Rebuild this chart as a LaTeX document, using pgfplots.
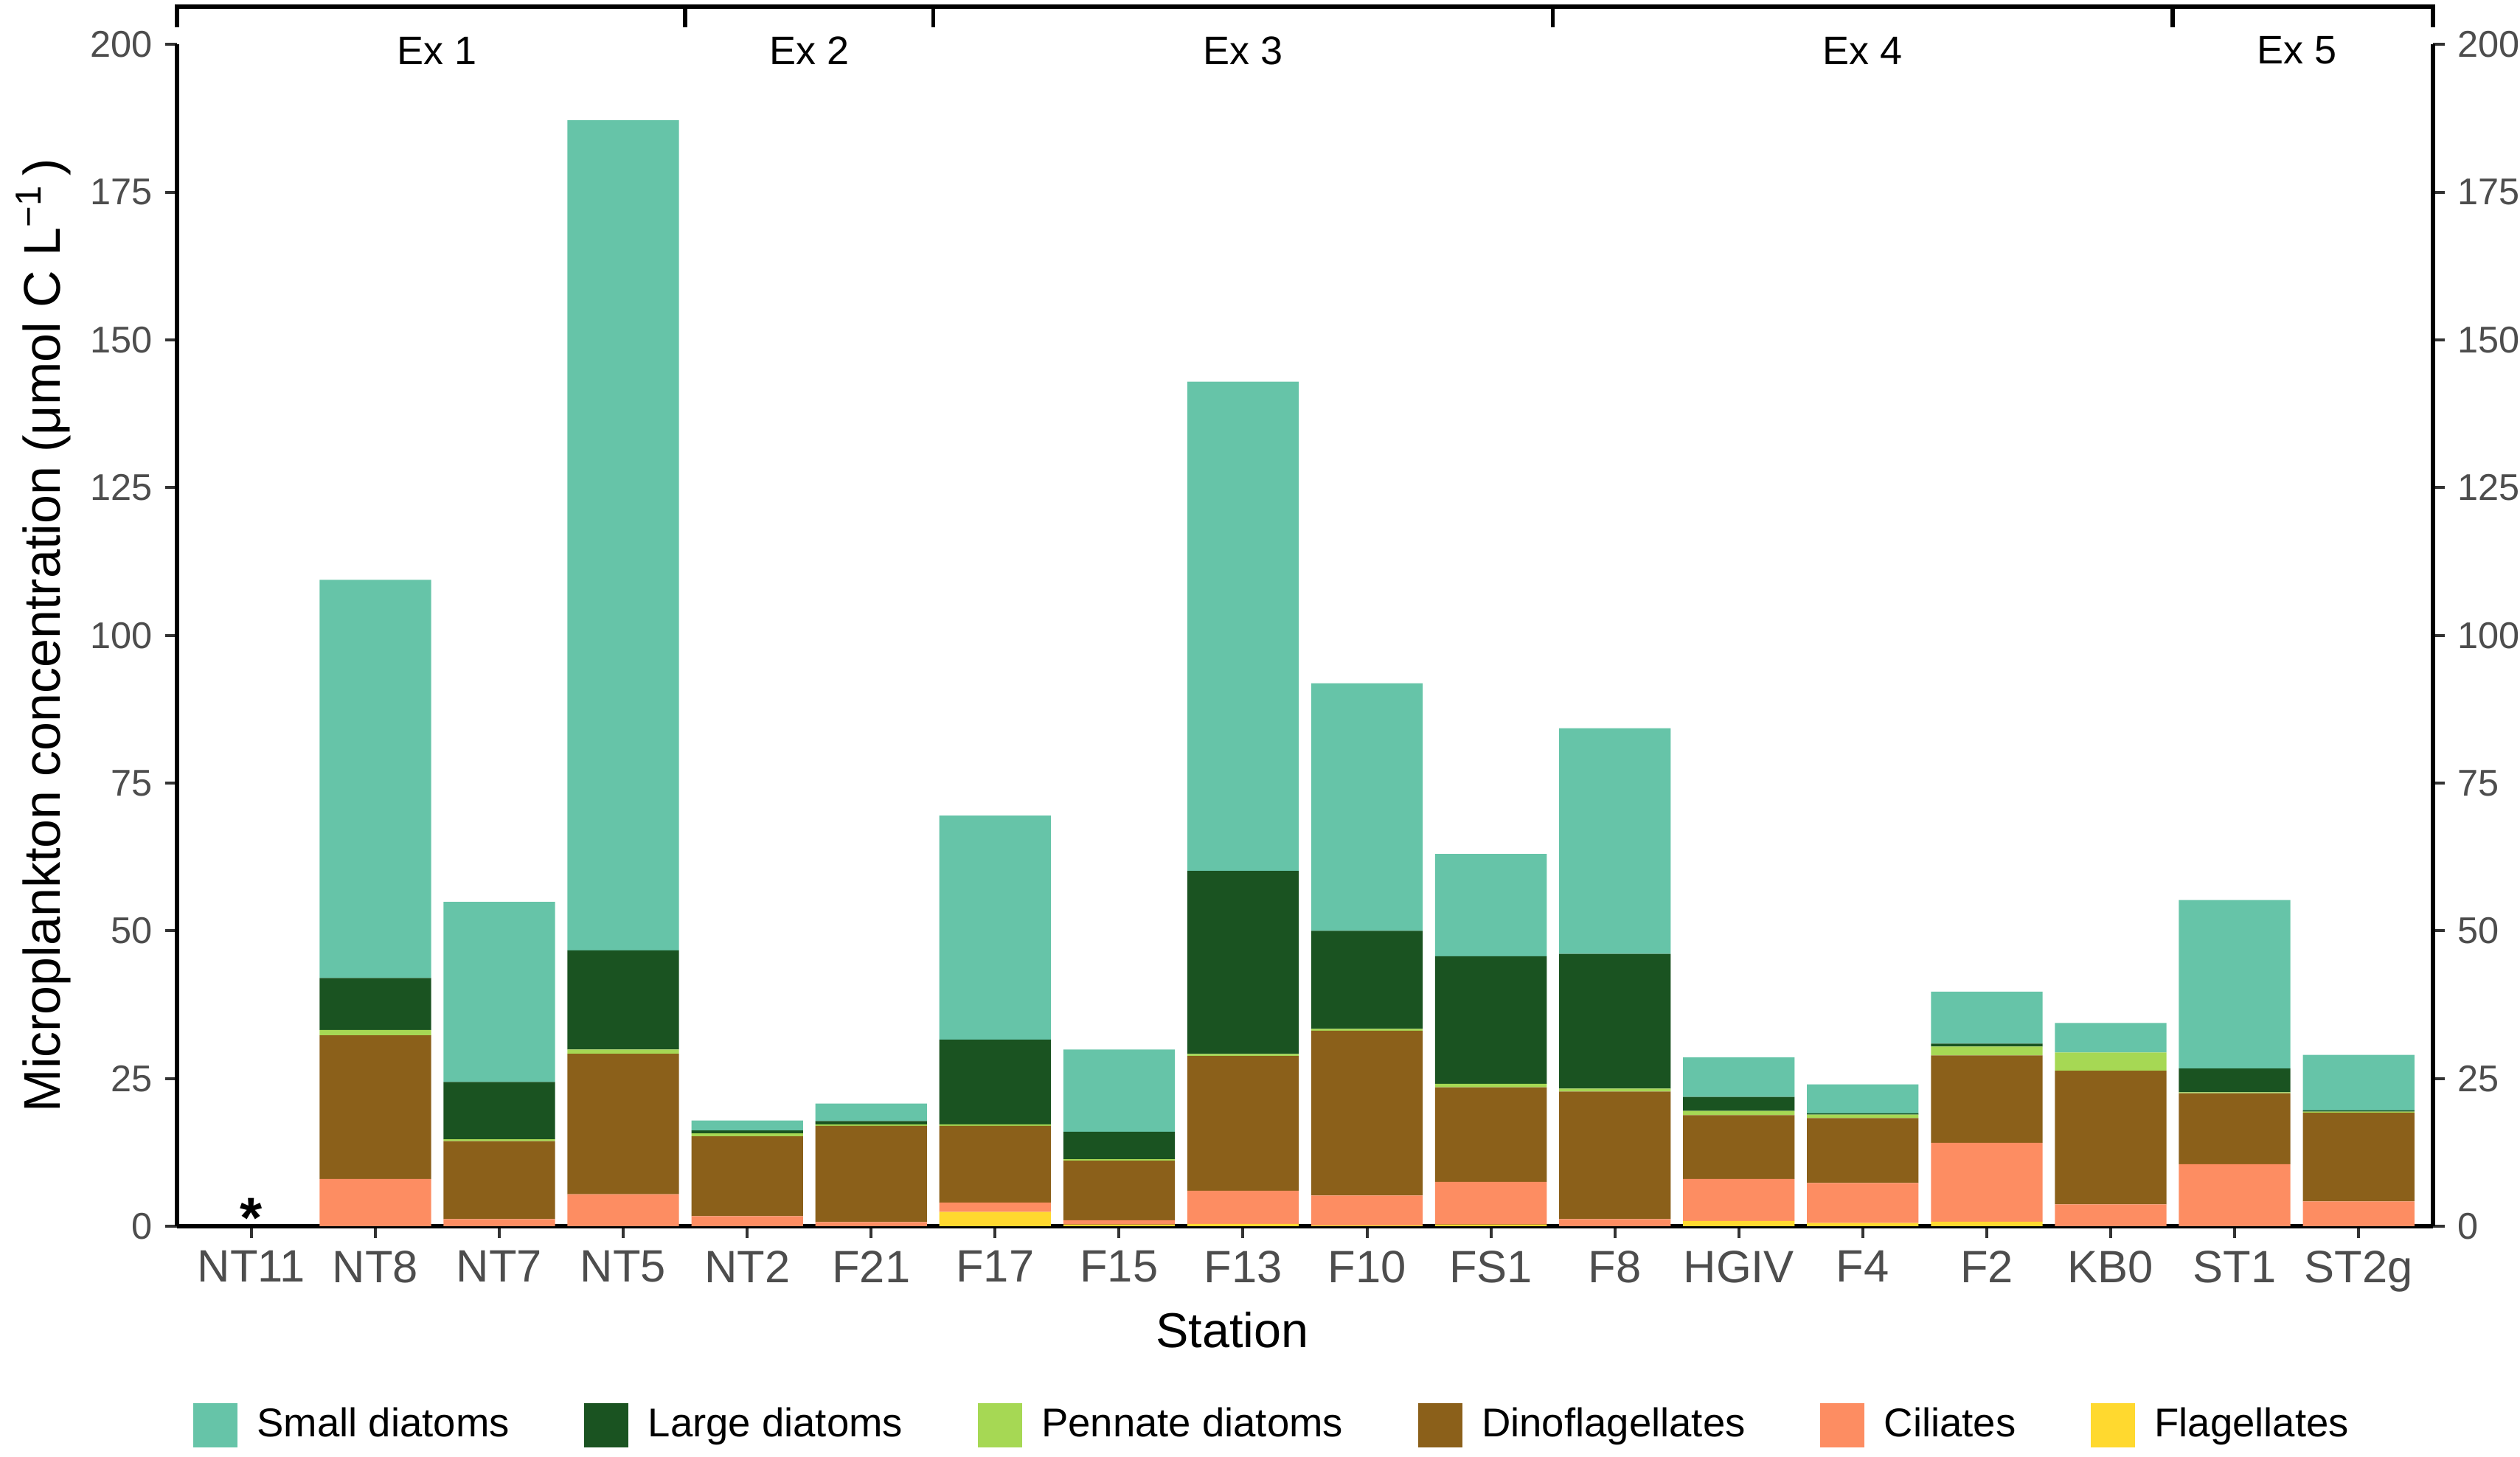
\documentclass[border=0pt]{standalone}
\usepackage{pgfplots}
\pgfplotsset{compat=1.18}
\usepackage{pgfplotstable}
\usepackage{fontspec}
\setmainfont{Liberation Sans}
\definecolor{smallc}{HTML}{66C4A8}
\definecolor{largec}{HTML}{1A5321}
\definecolor{penc}{HTML}{A6D854}
\definecolor{dinoc}{HTML}{8B601A}
\definecolor{cilc}{HTML}{FD8D62}
\definecolor{flagc}{HTML}{FFD92F}
\definecolor{tickgrey}{HTML}{4D4D4D}
\definecolor{tickline}{HTML}{333333}

\pgfplotstableread{
x flag cil dino pen large small
0 0 0 0 0 0 0
1 0 8.0 24.3 0.9 8.8 67.4
2 0 1.2 13.2 0.3 9.7 30.5
3 0 5.4 23.8 0.7 16.8 140.5
4 0 1.7 13.5 0.5 0.5 1.7
5 0 0.7 16.3 0.25 0.55 2.95
6 2.4 1.6 13.0 0.25 14.35 37.9
7 0.3 0.7 10.1 0.25 4.65 13.9
8 0.4 5.6 22.8 0.35 31.0 82.8
9 0.15 5.05 27.9 0.3 16.6 41.9
10 0.3 7.2 16.0 0.6 21.6 17.3
11 0 1.2 21.6 0.5 22.8 38.2
12 0.9 7.1 10.8 0.7 2.4 6.7
13 0.55 6.75 11.0 0.6 0.2 4.9
14 0.75 13.35 14.8 1.5 0.5 8.8
15 0 3.7 22.6 3.1 0 5.0
16 0 10.5 12.0 0.15 4.05 28.5
17 0 4.2 15.0 0.2 0.2 9.4
}\datatable

\begin{document}
\begin{tikzpicture}
\pgfplotsset{
  /pgf/number format/assume math mode=true,
  common/.style={
    at={(0pt,0pt)}, anchor=south west,
    scale only axis, width=611.8pt, height=320.5pt,
    xmin=-0.6, xmax=17.6, ymin=0, ymax=200,
    ytick={0,25,...,200},
    tick align=outside, major tick length=3.2pt,
    tick style={line width=0.8pt, color=tickline},
    axis line style={line width=1.1pt, black},
    yticklabel style={font=\fontsize{10.1}{12}\selectfont, text=tickgrey},
  },
}
\begin{axis}[common,
  axis x line*=bottom, axis y line*=left,
  ybar stacked, bar width=0.9,
  clip=false,
  xtick={0,...,17},
  xticklabels={NT11,NT8,NT7,NT5,NT2,F21,F17,F15,F13,F10,FS1,F8,HGIV,F4,F2,KB0,ST1,ST2g},
  xticklabel style={font=\fontsize{12.3}{14}\selectfont, text=tickgrey},
  legend columns=6,
  legend image code/.code={\fill[#1] (0pt,-6pt) rectangle (12pt,6pt);},
  legend style={at={(0.4866,-0.1685)}, anchor=center, draw=none, fill=none,
    font=\fontsize{10.9}{13}\selectfont, inner sep=0pt,
    /tikz/every odd column/.append style={column sep=3.3pt},
    /tikz/every even column/.append style={column sep=18.3pt}},
]
\addlegendimage{fill=smallc, draw=none}\addlegendentry{Small diatoms}
\addlegendimage{fill=largec, draw=none}\addlegendentry{Large diatoms}
\addlegendimage{fill=penc, draw=none}\addlegendentry{Pennate diatoms}
\addlegendimage{fill=dinoc, draw=none}\addlegendentry{Dinoflagellates}
\addlegendimage{fill=cilc, draw=none}\addlegendentry{Ciliates}
\addlegendimage{fill=flagc, draw=none}\addlegendentry{Flagellates}

\addplot[fill=flagc, draw=none] table[x=x, y=flag]{\datatable};
\addplot[fill=cilc, draw=none] table[x=x, y=cil]{\datatable};
\addplot[fill=dinoc, draw=none] table[x=x, y=dino]{\datatable};
\addplot[fill=penc, draw=none] table[x=x, y=pen]{\datatable};
\addplot[fill=largec, draw=none] table[x=x, y=large]{\datatable};
\addplot[fill=smallc, draw=none] table[x=x, y=small]{\datatable};

% experiment bracket
\draw[line width=1.1pt, black] (axis cs:-0.6,202.9) -- (axis cs:-0.6,206.4) -- (axis cs:17.6,206.4) -- (axis cs:17.6,202.9);
\pgfplotsinvokeforeach{3.5,5.5,10.5,15.5}{
  \draw[line width=1.1pt, black] (axis cs:#1,206.4) -- (axis cs:#1,202.9);
}
\node[font=\fontsize{10.8}{12}\selectfont] at (axis cs:1.5,199) {Ex 1};
\node[font=\fontsize{10.8}{12}\selectfont] at (axis cs:4.5,199) {Ex 2};
\node[font=\fontsize{10.8}{12}\selectfont] at (axis cs:8,199) {Ex 3};
\node[font=\fontsize{10.8}{12}\selectfont] at (axis cs:13,199) {Ex 4};
\node[font=\fontsize{10.8}{12}\selectfont] at (axis cs:16.5,199) {Ex 5};
\node[font=\fontsize{15.5}{15.5}\selectfont\bfseries, inner sep=0pt, anchor=north] at (axis cs:0,4.9) {*};

\node[rotate=90, font=\fontsize{14}{16}\selectfont] at ([xshift=-36.3pt]rel axis cs:0,0.5)
  {Microplankton concentration (μmol C L\textsuperscript{\char"2212 1}\,)};
\node[font=\fontsize{13.3}{16}\selectfont] at ([yshift=-28.2pt]rel axis cs:0.4678,0) {Station};
\end{axis}
\begin{axis}[common,
  axis x line=none, axis y line*=right,
]
\addplot[draw=none] coordinates {(0,0)};
\end{axis}
\pgfresetboundingbox
\useasboundingbox (-48pt,-62.6pt) rectangle (635.4pt,332.6pt);
\end{tikzpicture}
\end{document}
